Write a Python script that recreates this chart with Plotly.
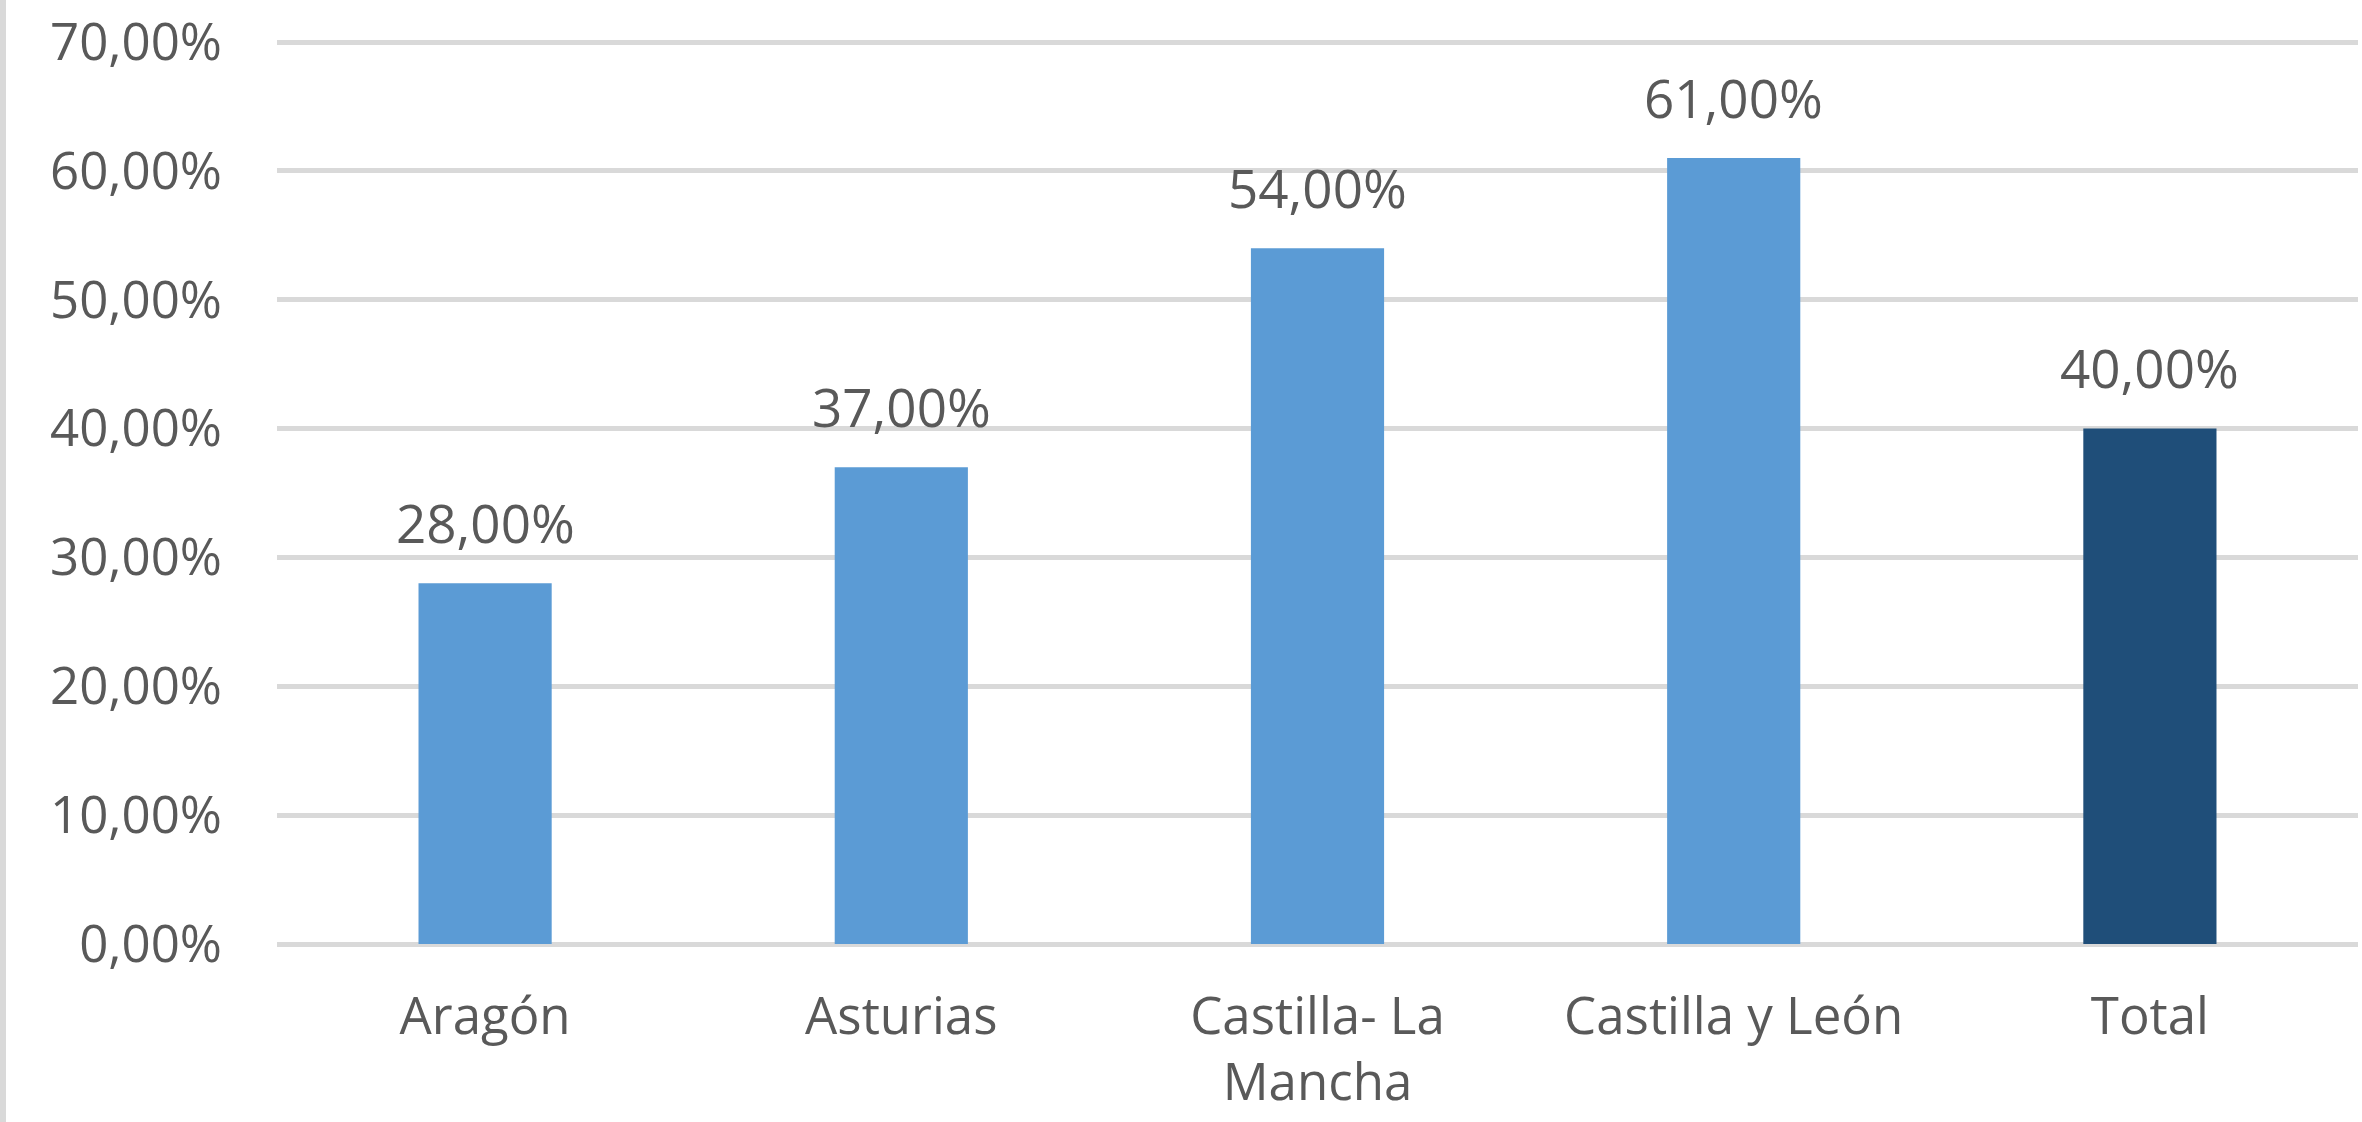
import plotly.graph_objects as go

categories = ["Aragón", "Asturias", "Castilla- La<br>Mancha", "Castilla y León", "Total"]
values = [0.28, 0.37, 0.54, 0.61, 0.40]
labels = ["28,00%", "37,00%", "54,00%", "61,00%", "40,00%"]
tick_vals = [0, 0.1, 0.2, 0.3, 0.4, 0.5, 0.6, 0.7]
tick_text = ["0,00%", "10,00%", "20,00%", "30,00%", "40,00%", "50,00%", "60,00%", "70,00%"]
bar_colors = ["#5B9BD5", "#5B9BD5", "#5B9BD5", "#5B9BD5", "#1F4E79"]

FONT = "Open Sans"
TXT = "#595959"
FS = 51
W, H = 2362, 1122
L, R, T, B = 277, 4, 41, 178

fig = go.Figure()
fig.add_trace(go.Bar(x=categories, y=values, marker=dict(color=bar_colors, line=dict(width=0)),
                     width=0.32, hoverinfo="skip"))

for c, v, t in zip(categories, values, labels):
    fig.add_annotation(x=c, y=v, text=t, showarrow=False, yanchor="middle", yshift=61,
                       font=dict(family=FONT, size=53, color=TXT))

plot_w = W - L - R
plot_h = H - T - B
fig.add_shape(type="line", xref="paper", yref="paper", x0=-(L - 3) / plot_w, x1=-(L - 3) / plot_w,
              y0=-B / plot_h, y1=(H - B) / plot_h,
              line=dict(color="#D9D9D9", width=6))

fig.update_layout(
    width=W, height=H,
    margin=dict(l=L, r=R, t=T, b=B),
    paper_bgcolor="white", plot_bgcolor="white",
    showlegend=False,
    bargap=0.68,
    xaxis=dict(type="category", showgrid=False, showline=False, zeroline=False, automargin=False,
               tickfont=dict(family=FONT, size=FS, color=TXT), ticks="", ticklabelstandoff=38),
    yaxis=dict(range=[0, 0.7008], tickvals=tick_vals, ticktext=tick_text, automargin=False,
               showgrid=True, gridcolor="#D9D9D9", gridwidth=5,
               zeroline=True, zerolinecolor="#D9D9D9", zerolinewidth=5,
               showline=False, ticks="", ticklabelstandoff=54,
               tickfont=dict(family=FONT, size=FS, color=TXT)),
)

fig.write_html("out.html", config={"displayModeBar": False, "staticPlot": True},
               post_script="document.body.style.margin='0';document.body.style.overflow='hidden';")
